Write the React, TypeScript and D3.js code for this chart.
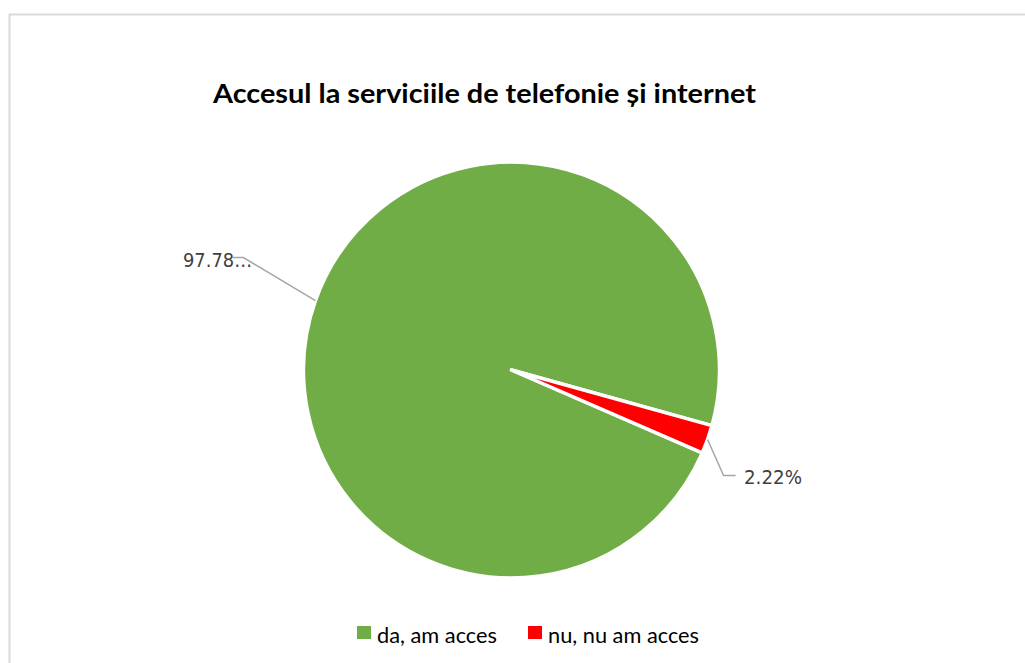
import React from "react";
import * as d3 from "d3";

const categories = ["da, am acces", "nu, nu am acces"];
const values = [97.78, 2.22];
const labels = ["97.78…", "2.22%"];
const colors = ["#70AD47", "#FF0000"];
const title = "Accesul la serviciile de telefonie și internet";

const W = 1025;
const H = 663;
const cx = 511.5;
const cy = 370;
const R = 208;
const startDeg = 113.5;

export default function App() {
  const pie = d3
    .pie<number>()
    .sort(null)
    .value((d) => d)
    .startAngle((startDeg * Math.PI) / 180)
    .endAngle((startDeg * Math.PI) / 180 + 2 * Math.PI);
  const arcs = pie(values);
  const arc = d3.arc<d3.PieArcDatum<number>>().innerRadius(0).outerRadius(R);

  const leaderLayout = [
    { elbowDx: -72, elbowDy: -43, hLen: -11, anchor: "end", tx: 252, tlen: 69 },
    { elbowDx: 16, elbowDy: 36, hLen: 12, anchor: "start", tx: 744, tlen: 58 },
  ];

  return (
    <svg
      width={W}
      height={H}
      style={{ position: "absolute", left: 0, top: 0, background: "#fff" }}
    >
      <rect x={9.5} y={14.5} width={1030} height={700} fill="#fff" stroke="#d9d9d9" strokeWidth={2} />
      <text
        x={213}
        y={103}
        fontFamily="Lato, 'Open Sans', sans-serif"
        fontWeight="bold"
        fontSize={26}
        fill="#000"
        textLength={543}
        lengthAdjust="spacingAndGlyphs"
      >
        {title}
      </text>
      <g transform={`translate(${cx},${cy})`}>
        {arcs.map((a, i) => (
          <path
            key={i}
            d={arc(a) || ""}
            fill={colors[i]}
            stroke="#fff"
            strokeWidth={3.5}
            strokeLinejoin="round"
          />
        ))}
        {arcs.map((a, i) => {
          const mid = (a.startAngle + a.endAngle) / 2;
          const px = Math.sin(mid) * R;
          const py = -Math.cos(mid) * R;
          const L = leaderLayout[i];
          const ex = px + L.elbowDx;
          const ey = py + L.elbowDy;
          const hx = ex + L.hLen;
          return (
            <g key={"l" + i}>
              <polyline
                points={`${px},${py} ${ex},${ey} ${hx},${ey}`}
                fill="none"
                stroke="#a6a6a6"
                strokeWidth={1.5}
              />
              <text
                x={L.tx - cx}
                y={ey + 9}
                textAnchor={L.anchor as any}
                fontFamily="'DejaVu Sans', sans-serif"
                fontSize={20}
                fill="#404040"
                textLength={L.tlen}
                lengthAdjust="spacingAndGlyphs"
              >
                {labels[i]}
              </text>
            </g>
          );
        })}
      </g>
      <g>
        {categories.map((c, i) => {
          const lx = [357, 528][i];
          const tlen = [120, 151][i];
          return (
            <g key={c}>
              <rect x={lx} y={626} width={14} height={13} fill={colors[i]} />
              <text
                x={lx + 20}
                y={643}
                fontFamily="Lato, 'Open Sans', sans-serif"
                fontSize={21}
                fill="#000"
                textLength={tlen}
                lengthAdjust="spacingAndGlyphs"
              >
                {c}
              </text>
            </g>
          );
        })}
      </g>
    </svg>
  );
}
